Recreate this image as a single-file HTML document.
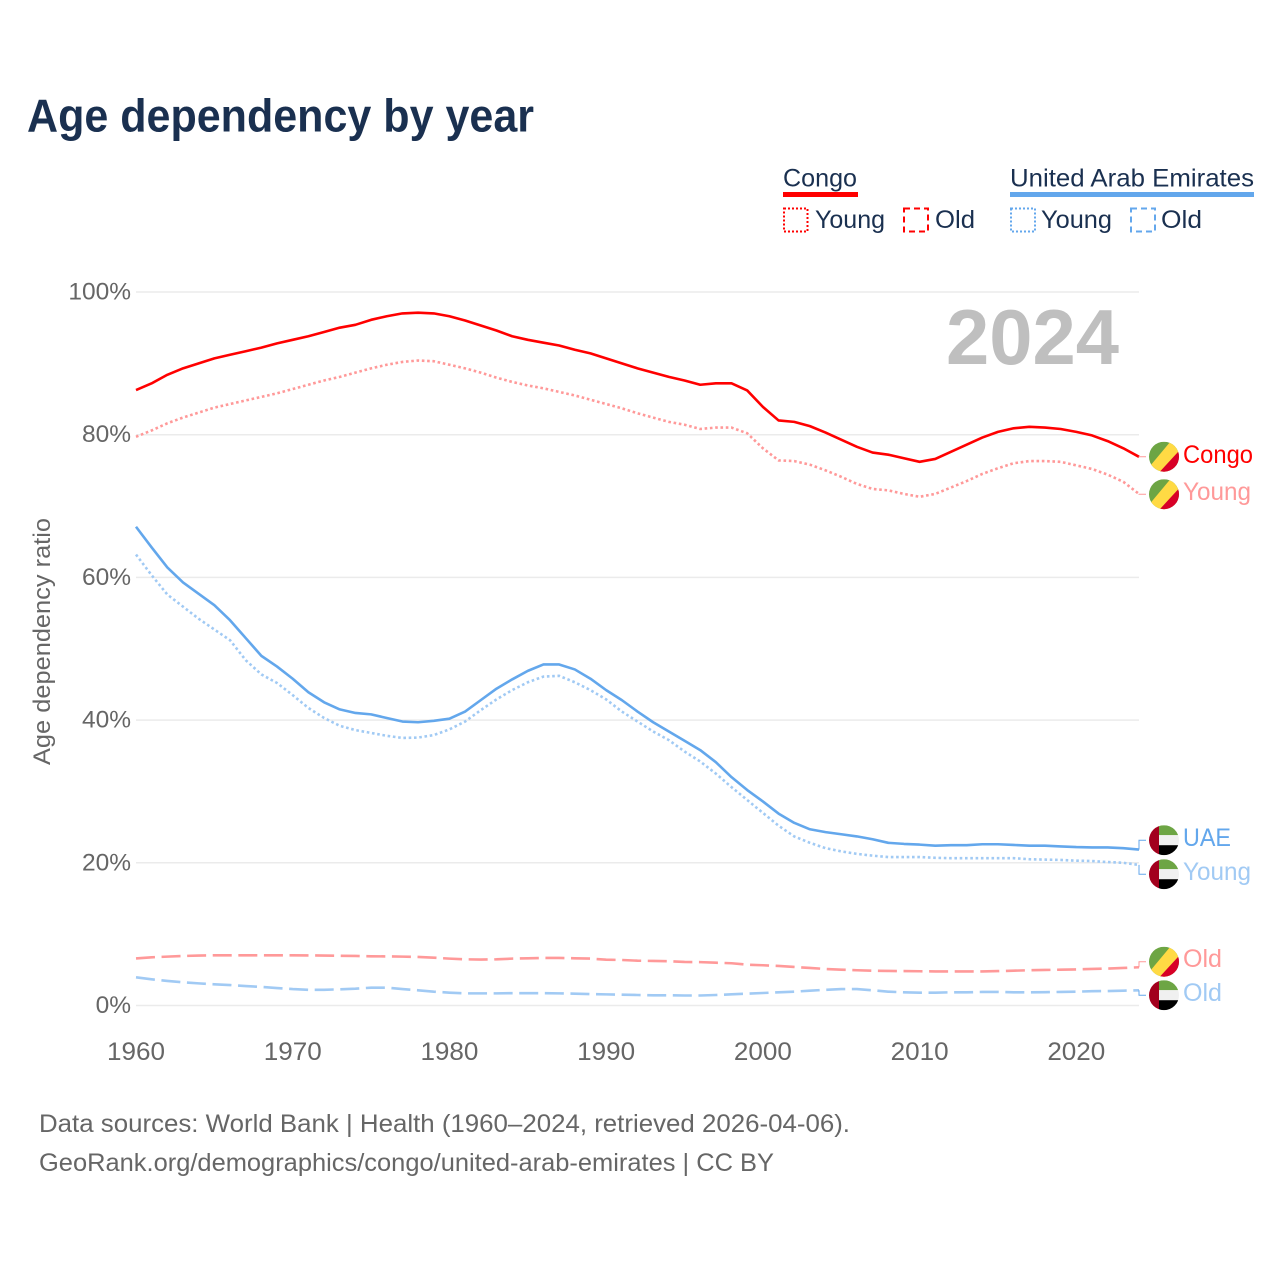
<!DOCTYPE html>
<html lang="en">
<head>
<meta charset="utf-8">
<title>Age dependency by year</title>
<style>
html,body{margin:0;padding:0;background:#fff}
svg{display:block}
text{font-family:"Liberation Sans",sans-serif}
</style>
</head>
<body>
<svg id="chart" xmlns="http://www.w3.org/2000/svg" width="1280" height="1280" viewBox="0 0 1280 1280">
  <rect width="1280" height="1280" fill="#fff"/>
  <text x="27" y="131.5" font-size="46" font-weight="700" fill="#1a3050" textLength="507" lengthAdjust="spacingAndGlyphs">Age dependency by year</text>

  <g>
    <text x="783" y="186.5" font-size="25" fill="#1a3050" textLength="74" lengthAdjust="spacingAndGlyphs">Congo</text>
    <rect x="783" y="192" width="75" height="5" fill="#ff0000"/>
    <rect x="784" y="208.5" width="23.5" height="23" fill="none" stroke="#ff0000" stroke-width="2" stroke-dasharray="2 2"/>
    <text x="815" y="228" font-size="25" fill="#1a3050" textLength="70" lengthAdjust="spacingAndGlyphs">Young</text>
    <rect x="904" y="208.5" width="24" height="23" fill="none" stroke="#ff0000" stroke-width="2" stroke-dasharray="6 4"/>
    <text x="935" y="228" font-size="25" fill="#1a3050" textLength="40" lengthAdjust="spacingAndGlyphs">Old</text>

    <text x="1010" y="186.5" font-size="25" fill="#1a3050" textLength="244" lengthAdjust="spacingAndGlyphs">United Arab Emirates</text>
    <rect x="1010" y="192" width="244" height="5" fill="#63a7ec"/>
    <rect x="1011" y="208.5" width="24" height="23" fill="none" stroke="#63a7ec" stroke-width="2" stroke-dasharray="2 2"/>
    <text x="1041" y="228" font-size="25" fill="#1a3050" textLength="71" lengthAdjust="spacingAndGlyphs">Young</text>
    <rect x="1131" y="208.5" width="24" height="23" fill="none" stroke="#63a7ec" stroke-width="2" stroke-dasharray="6 4"/>
    <text x="1161" y="228" font-size="25" fill="#1a3050" textLength="41" lengthAdjust="spacingAndGlyphs">Old</text>
  </g>

  <text transform="translate(50,641.5) rotate(-90)" text-anchor="middle" font-size="24.5" fill="#666666" textLength="247" lengthAdjust="spacingAndGlyphs">Age dependency ratio</text>

  <g id="grid"></g>
  <g id="yticks"></g>
  <g id="xticks"></g>

  <text x="946" y="364" font-size="78" font-weight="700" fill="#bfbfbf" textLength="173" lengthAdjust="spacingAndGlyphs">2024</text>

  <g id="series"></g>
  <g id="endlabels"></g>

  <text x="39" y="1132" font-size="25" fill="#666666" textLength="811" lengthAdjust="spacingAndGlyphs">Data sources: World Bank | Health (1960–2024, retrieved 2026-04-06).</text>
  <text x="39" y="1171" font-size="25" fill="#666666" textLength="735" lengthAdjust="spacingAndGlyphs">GeoRank.org/demographics/congo/united-arab-emirates | CC BY</text>
</svg>

<script>
const startYear = 1960;
const endYear = 2024;
const yTickValues = [0, 20, 40, 60, 80, 100];
const xTickValues = [1960, 1970, 1980, 1990, 2000, 2010, 2020];

const congoTotal = [86.25,87.2,88.4,89.3,90.0,90.7,91.2,91.7,92.2,92.8,93.3,93.8,94.4,95.0,95.4,96.1,96.6,97.0,97.1,97.0,96.6,96.0,95.3,94.6,93.8,93.3,92.9,92.5,91.9,91.4,90.7,90.0,89.3,88.7,88.1,87.6,87.0,87.2,87.2,86.2,83.9,82.0,81.8,81.2,80.3,79.3,78.3,77.5,77.2,76.7,76.2,76.6,77.6,78.6,79.6,80.4,80.9,81.1,81.0,80.8,80.4,79.9,79.1,78.1,76.9];
const congoYoung = [79.7,80.6,81.6,82.4,83.1,83.8,84.3,84.8,85.3,85.8,86.4,87.0,87.6,88.1,88.7,89.3,89.8,90.2,90.4,90.3,89.8,89.3,88.7,88.0,87.4,86.9,86.5,86.0,85.5,84.9,84.3,83.7,83.0,82.4,81.8,81.4,80.8,81.0,81.0,80.2,78.1,76.4,76.3,75.8,75.0,74.1,73.1,72.4,72.2,71.7,71.3,71.7,72.6,73.5,74.5,75.3,76.0,76.3,76.3,76.2,75.7,75.2,74.4,73.4,71.7];
const congoOld = [6.6,6.76,6.85,6.94,7.0,7.03,7.03,7.03,7.03,7.03,7.03,7.02,7.0,6.97,6.94,6.9,6.88,6.85,6.8,6.7,6.57,6.47,6.44,6.47,6.57,6.62,6.66,6.66,6.62,6.57,6.42,6.38,6.28,6.24,6.2,6.1,6.08,6.0,5.92,5.72,5.64,5.54,5.4,5.26,5.12,5.02,4.94,4.88,4.84,4.82,4.8,4.78,4.78,4.78,4.78,4.82,4.88,4.94,4.98,5.02,5.06,5.12,5.18,5.26,5.36];
const uaeTotal = [67.1,64.2,61.4,59.3,57.7,56.1,54.0,51.5,49.0,47.5,45.8,43.9,42.5,41.5,41.0,40.8,40.3,39.8,39.7,39.9,40.2,41.2,42.8,44.4,45.7,46.9,47.8,47.8,47.1,45.8,44.2,42.8,41.2,39.7,38.4,37.1,35.8,34.1,32.0,30.2,28.6,26.9,25.6,24.7,24.3,24.0,23.7,23.3,22.8,22.65,22.55,22.4,22.47,22.47,22.6,22.6,22.5,22.4,22.4,22.3,22.2,22.15,22.15,22.05,21.85];
const uaeYoung = [63.2,60.3,57.6,55.9,54.2,52.7,51.2,48.4,46.4,45.2,43.5,41.7,40.3,39.2,38.6,38.2,37.8,37.5,37.55,37.9,38.7,39.8,41.4,42.9,44.2,45.3,46.1,46.2,45.3,44.2,42.9,41.2,39.8,38.4,37.2,35.6,34.2,32.5,30.6,28.8,27.0,25.2,23.7,22.8,22.05,21.6,21.25,21.0,20.8,20.8,20.8,20.7,20.65,20.65,20.65,20.65,20.65,20.5,20.45,20.4,20.3,20.25,20.1,20.0,19.7];
const uaeOld = [3.95,3.67,3.44,3.25,3.1,2.97,2.87,2.73,2.6,2.45,2.3,2.2,2.2,2.27,2.36,2.5,2.5,2.3,2.13,1.94,1.8,1.7,1.7,1.7,1.73,1.73,1.73,1.7,1.66,1.6,1.56,1.52,1.47,1.43,1.43,1.4,1.4,1.47,1.57,1.66,1.75,1.85,1.94,2.08,2.2,2.3,2.3,2.13,1.94,1.85,1.8,1.8,1.85,1.85,1.9,1.9,1.85,1.85,1.87,1.9,1.94,2.0,2.03,2.08,2.13];

const SVGNS = 'http://www.w3.org/2000/svg';
function xScale(year) { return 136 + (year - startYear) * (1139 - 136) / (endYear - startYear); }
function yScale(pct) { return 1005.5 - pct * 7.135; }

function make(parent, tag, attrs) {
  const node = document.createElementNS(SVGNS, tag);
  for (const k in attrs) node.setAttribute(k, attrs[k]);
  parent.appendChild(node);
  return node;
}

const gridGroup = document.getElementById('grid');
const yGroup = document.getElementById('yticks');
yTickValues.forEach(function (v) {
  const line = make(gridGroup, 'line', {x1: 136, x2: 1139, y1: yScale(v), y2: yScale(v), stroke: '#ebebeb', 'stroke-width': 1.5});
  
  
  const t = make(yGroup, 'text', {x: 131, y: yScale(v) + 7.5, 'text-anchor': 'end', 'font-size': 24.5, fill: '#666666'});
  t.textContent = v + '%';
  
  
});

const xGroup = document.getElementById('xticks');
xTickValues.forEach(function (v) {
  const t = make(xGroup, 'text', {x: xScale(v), y: 1060, 'text-anchor': 'middle', 'font-size': 25, fill: '#666666', textLength: 58, lengthAdjust: 'spacingAndGlyphs'});
  t.textContent = String(v);
  
  
});

function linePoints(values) {
  return values.map(function (v, i) {
    return xScale(startYear + i).toFixed(2) + ',' + yScale(v).toFixed(2);
  }).join(' ');
}

const seriesGroup = document.getElementById('series');
function drawSeries(values, color, dash, name) {
  const attrs = {points: linePoints(values), fill: 'none', stroke: color, 'stroke-width': 2.6, 'stroke-linejoin': 'round'};
  if (dash) attrs['stroke-dasharray'] = dash;
  const p = make(seriesGroup, 'polyline', attrs);
  
  
}

const RED = '#ff0000', RED_L = '#ff9999', BLUE = '#63a7ec', BLUE_L = '#a1caf4';
const DOT = '2.6 2.7', DASH = '19 6.6';
drawSeries(congoOld, RED_L, DASH, 'line-congo-old');
drawSeries(uaeOld, BLUE_L, DASH, 'line-uae-old');
drawSeries(uaeYoung, BLUE_L, DOT, 'line-uae-young');
drawSeries(congoYoung, RED_L, DOT, 'line-congo-young');
drawSeries(uaeTotal, BLUE, null, 'line-uae-total');
drawSeries(congoTotal, RED, null, 'line-congo-total');

const labelGroup = document.getElementById('endlabels');
let clipCount = 0;

function drawFlag(kind, cy, name) {
  const cx = 1164, r = 15;
  const g = make(labelGroup, 'g', {});
  
  
  const id = 'flagclip' + (clipCount++);
  const cp = make(g, 'clipPath', {id: id});
  make(cp, 'circle', {cx: cx, cy: cy, r: r});
  const inner = make(g, 'g', {'clip-path': 'url(#' + id + ')'});
  const L = cx - r, R = cx + r, T = cy - r, B = cy + r;
  if (kind === 'congo') {
    make(inner, 'rect', {x: L, y: T, width: 30, height: 30, fill: '#6da544'});
    make(inner, 'polygon', {points: [L - 2, cy + 13, cx + 8, T - 2, R + 2, T - 2, R + 2, cy - 8, cx + 3, B + 2, L - 2, B + 2].join(' '), fill: '#ffda44'});
    make(inner, 'polygon', {points: [R + 2, cy - 8, R + 2, B + 2, cx - 6, B + 2].join(' '), fill: '#d80027'});
  } else {
    const bar = cx - 5, third = 10;
    make(inner, 'rect', {x: bar, y: T, width: 21, height: third, fill: '#6da544'});
    make(inner, 'rect', {x: bar, y: T + third, width: 21, height: third, fill: '#f0f0f0'});
    make(inner, 'rect', {x: bar, y: T + 2 * third, width: 21, height: third, fill: '#000000'});
    make(inner, 'rect', {x: L, y: T, width: 10, height: 30, fill: '#a2001d'});
  }
}

function drawEndLabel(values, text, color, connectorColor, anchorY, baseline, width, kind, name) {
  const yEnd = yScale(values[values.length - 1]);
  const conn = make(labelGroup, 'polyline', {
    points: [xScale(endYear), yEnd.toFixed(1), 1139, anchorY, 1146, anchorY].join(' '),
    fill: 'none', stroke: connectorColor, 'stroke-width': 1
  });
  
  
  drawFlag(kind, anchorY, name + '-flag');
  const t = make(labelGroup, 'text', {x: 1183, y: baseline, 'font-size': 25, fill: color, textLength: width, lengthAdjust: 'spacingAndGlyphs'});
  t.textContent = text;
  
  
}

drawEndLabel(congoTotal, 'Congo', RED, RED_L, 456.7, 463, 70, 'congo', 'end-congo-total');
drawEndLabel(congoYoung, 'Young', RED_L, RED_L, 494.2, 500, 68, 'congo', 'end-congo-young');
drawEndLabel(uaeTotal, 'UAE', BLUE, BLUE, 840.2, 846, 48, 'uae', 'end-uae-total');
drawEndLabel(uaeYoung, 'Young', BLUE_L, BLUE, 874.2, 880, 68, 'uae', 'end-uae-young');
drawEndLabel(congoOld, 'Old', RED_L, RED_L, 961.7, 967, 39, 'congo', 'end-congo-old');
drawEndLabel(uaeOld, 'Old', BLUE_L, BLUE, 995.2, 1001, 39, 'uae', 'end-uae-old');
</script>
</body>
</html>
